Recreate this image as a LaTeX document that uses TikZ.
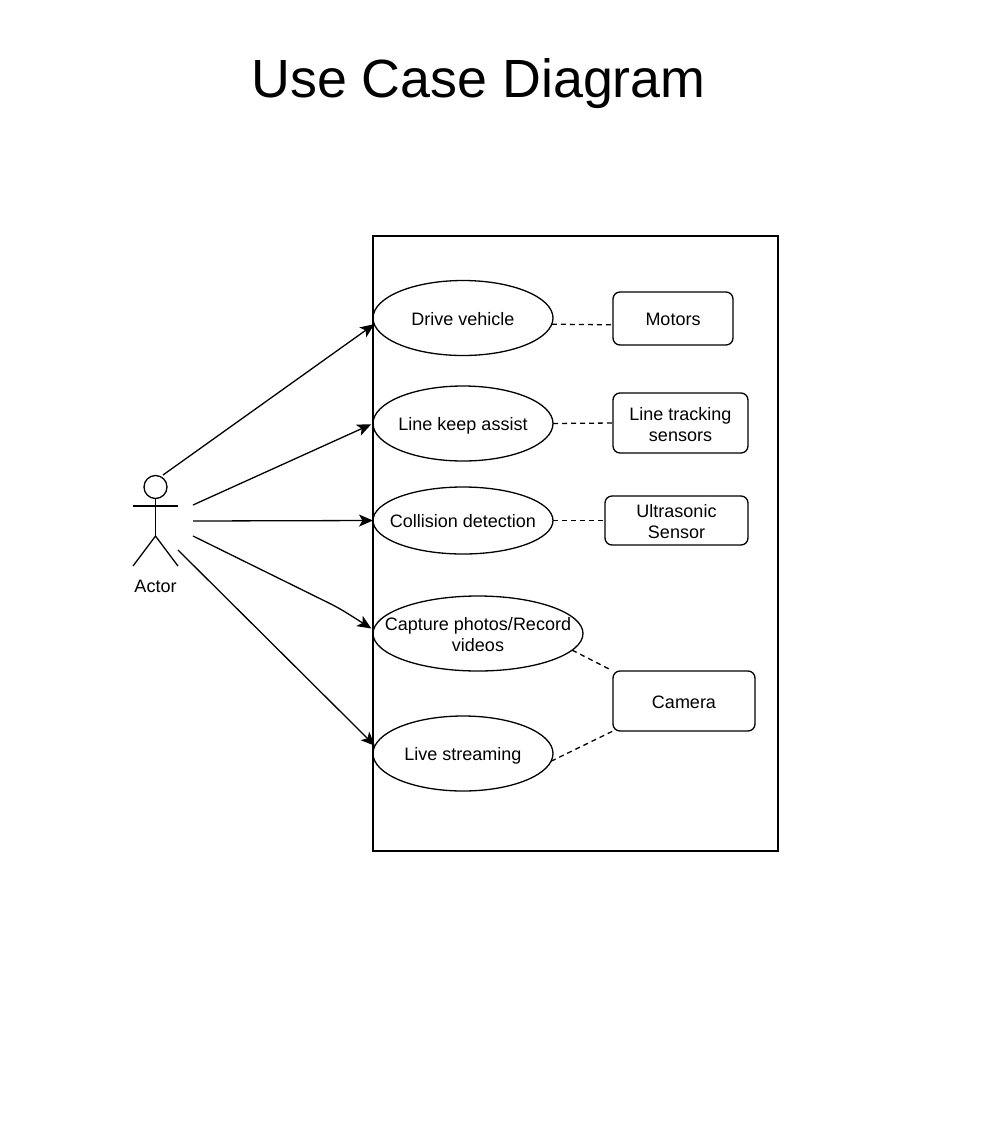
\documentclass[tikz,border=0pt]{standalone}
\usepackage{fontspec}
\setmainfont{Liberation Sans}
\usetikzlibrary{shapes.geometric,arrows.meta}
\tikzset{
  x=1pt,y=-1pt,
  every node/.style={font=\fontsize{18}{21}\selectfont,align=center,inner sep=0pt,outer sep=0pt},
  base/.style={line width=1.3pt,black},
  txt/.style={text height=18pt,text depth=4pt},
  twolines/.style={text height=40pt},
  usecase/.style={base,draw,ellipse,txt,inner xsep=-40pt,inner ysep=-10pt,minimum width=180pt,minimum height=75pt},
  device/.style={base,draw,rectangle,txt,rounded corners=7pt},
  assoc/.style={base,-{Stealth[length=14pt,width=12pt,inset=3.5pt]}},
  link/.style={base,dash pattern=on 5pt off 4pt},
  limb/.style={base}
}
\begin{document}
\begin{tikzpicture}
\useasboundingbox (0,0) rectangle (996,1128);
\fill[white] (0,0) rectangle (996,1128);
\node[font=\fontsize{53.8}{62}\selectfont] (title) at (478.5,84) {Use Case Diagram};
\node[base,draw,minimum width=405pt,minimum height=615pt] (system) at (575.5,543.5) {};
% use cases
\node[usecase] (drive) at (463,318) {Drive vehicle};
\node[usecase] (keep) at (463,423.5) {Line keep assist};
\node[usecase,minimum height=67pt] (collision) at (463,520.5) {Collision detection};
\node[usecase,twolines,minimum width=210pt] (capture) at (478,633.5) {Capture photos/Record\\videos};
\node[usecase] (live) at (463,753.5) {Live streaming};
% devices
\node[device,minimum width=120pt,minimum height=53pt] (motors) at (673,318.5) {Motors};
\node[device,twolines,minimum width=135pt,minimum height=60pt] (tracking) at (680.5,423) {Line tracking\\sensors};
\node[device,twolines,minimum width=143pt,minimum height=49pt] (ultra) at (676.5,520.5) {Ultrasonic\\Sensor};
\node[device,minimum width=142pt,minimum height=60pt] (camera) at (684,701) {Camera};
% actor
\node[base,draw,circle,minimum size=23pt] (head) at (155.5,487) {};
\coordinate (hip) at (155.5,536);
\coordinate (armL) at (133,506);
\coordinate (armR) at (178,506);
\coordinate (legL) at (133,566);
\coordinate (legR) at (178,566);
\draw[limb] (head.south) -- (hip);
\draw[limb] (armL) -- (armR);
\draw[limb] (legL) -- (hip) -- (legR);
\node (actorlabel) at (155.5,586) {Actor};
% connector ends at the actor
\coordinate (a1) at (163,475);
\coordinate (a2) at (193,505);
\coordinate (a3) at (193,521);
\coordinate (a4) at (193,536);
\coordinate (a5) at (178,550);
\coordinate (bend) at (339,608);
% associations
\draw[assoc] (a1) -- (drive.184.5);
\draw[assoc,shorten >=2pt] (a2) -- (keep.west);
\draw[assoc] (a3) -- (collision.west);
\draw[assoc,shorten >=2.5pt,rounded corners=10pt] (a4) -- (bend) -- (capture.178);
\draw[assoc] (a5) -- (live.175);
% links
\draw[link] (drive.-4.2) -- (motors.186);
\draw[link] (keep.east) -- (tracking.west);
\draw[link] (collision.east) -- (ultra.west);
\draw[link,shorten >=4pt] (capture.-10) -- (camera.north west);
\draw[link] (live.-5) -- (camera.south west);
\end{tikzpicture}
\end{document}
